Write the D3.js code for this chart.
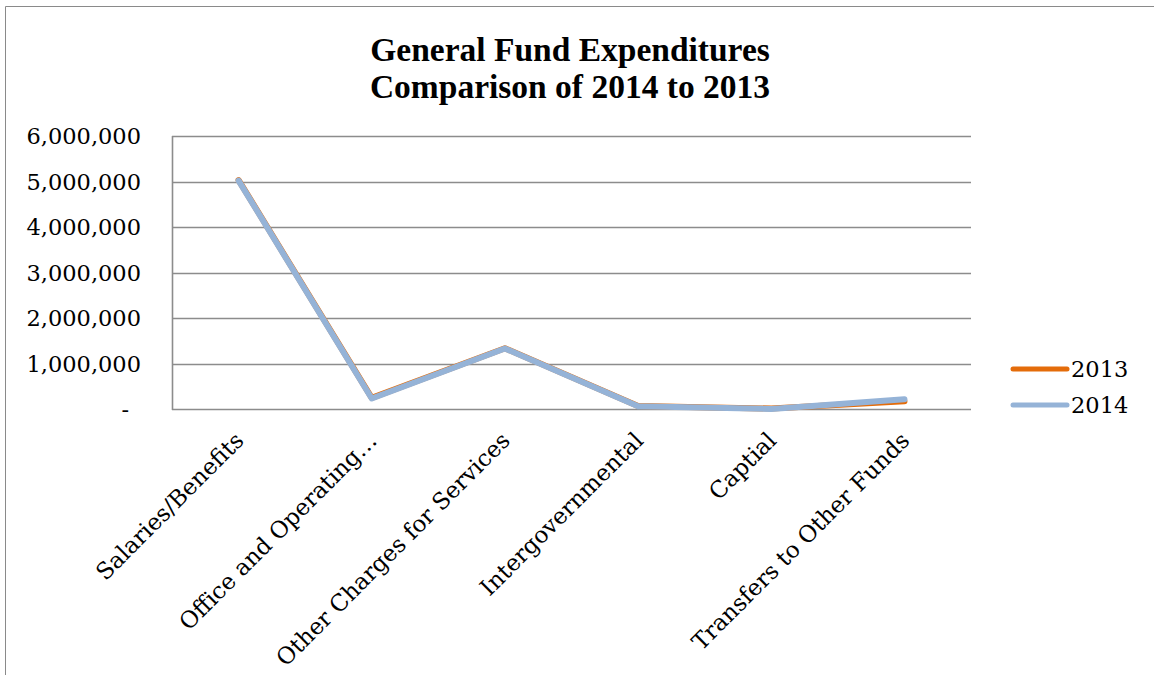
<!DOCTYPE html>
<html>
<head>
<meta charset="utf-8">
<script src="https://cdn.jsdelivr.net/npm/d3@7/dist/d3.min.js"></script>
<style>
  html, body { margin: 0; padding: 0; background: #ffffff; }
  svg { display: block; }
</style>
</head>
<body>
<svg id="chart" width="1154" height="675"></svg>
<script>
// Expenditure categories along the x axis
const categories = [
  "Salaries/Benefits",
  "Office and Operating\u2026",
  "Other Charges for Services",
  "Intergovernmental",
  "Captial",
  "Transfers to Other Funds"
];

// Yearly expenditure totals per category
const values2013 = [5030000, 245000, 1335000, 65000, 10000, 170000];
const values2014 = [5020000, 230000, 1330000, 60000, 0, 215000];

const seriesNames = ["2013", "2014"];
const seriesColors = ["#E46C0A", "#95B3D7"];

// Value axis ticks
const yTicks = [0, 1000000, 2000000, 3000000, 4000000, 5000000, 6000000];

const titleLines = ["General Fund Expenditures", "Comparison of 2014 to 2013"];

const svg = d3.select("#chart");
const serif = "'DejaVu Serif', serif";

// Chart frame (top and left edges visible)
svg.append("path")
  .attr("d", "M5.5,675 L5.5,6.5 L1154,6.5")
  .attr("fill", "none")
  .attr("stroke", "#8a8a8a")
  .attr("stroke-width", 1);

const plot = { left: 172, right: 971, top: 136, bottom: 409 };

const x = d3.scalePoint()
  .domain(categories)
  .range([plot.left, plot.right])
  .padding(0.5);

const y = d3.scaleLinear()
  .domain([0, 6000000])
  .range([plot.bottom, plot.top]);

// Title
const title = svg.append("text")
  .attr("x", 570)
  .attr("text-anchor", "middle")
  .attr("font-family", "'Liberation Serif', serif")
  .attr("font-weight", "bold")
  .attr("font-size", 33.5)
  .attr("fill", "#000");
title.selectAll("tspan")
  .data(titleLines)
  .join("tspan")
  .attr("x", 570)
  .attr("y", (d, i) => 61 + i * 37)
  .text(d => d);

// Horizontal gridlines
svg.append("g")
  .selectAll("line")
  .data(yTicks)
  .join("line")
  .attr("x1", plot.left)
  .attr("x2", plot.right)
  .attr("y1", d => Math.round(y(d)) + 0.5)
  .attr("y2", d => Math.round(y(d)) + 0.5)
  .attr("stroke", "#8c8c8c")
  .attr("stroke-width", 1.6);

// Vertical value axis line
svg.append("line")
  .attr("x1", plot.left + 0.5).attr("x2", plot.left + 0.5)
  .attr("y1", plot.top).attr("y2", plot.bottom + 1)
  .attr("stroke", "#8c8c8c")
  .attr("stroke-width", 1.6);

// Value axis labels
const fmt = d3.format(",");
const yAxis = d3.axisLeft(y)
  .tickValues(yTicks)
  .tickSize(0)
  .tickPadding(0)
  .tickFormat(d => d === 0 ? "-" : fmt(d));

const yAxisG = svg.append("g")
  .attr("transform", `translate(141,0)`)
  .call(yAxis);
yAxisG.select(".domain").remove();
yAxisG.selectAll("text")
  .attr("font-family", serif)
  .attr("font-size", 22.5)
  .attr("fill", "#000")
  .attr("dy", "0.35em")
  .attr("dx", d => d === 0 ? -12 : 0);

// Category labels, rotated
const xAxis = d3.axisBottom(x).tickSize(0).tickPadding(0);
const xAxisG = svg.append("g")
  .attr("transform", `translate(0,${plot.bottom})`)
  .call(xAxis);
xAxisG.select(".domain").remove();
xAxisG.selectAll(".tick text")
  .attr("font-family", serif)
  .attr("font-size", 23)
  .attr("fill", "#000")
  .attr("text-anchor", "end")
  .attr("y", 0)
  .attr("dy", 0)
  .attr("transform", "translate(6,33) rotate(-45)");

// Series lines: 2013 drawn first, 2014 on top
const line = d3.line()
  .x((d, i) => x(categories[i]))
  .y(d => y(d));

[values2013, values2014].forEach((vals, i) => {
  svg.append("path")
    .datum(vals)
    .attr("d", line)
    .attr("fill", "none")
    .attr("stroke", seriesColors[i])
    .attr("stroke-width", 6)
    .attr("stroke-linejoin", "round")
    .attr("stroke-linecap", "round");
});

// Legend
const legend = svg.append("g");
const legendY = d3.scalePoint().domain(seriesNames).range([369, 405]);
seriesNames.forEach((name, i) => {
  const ly = legendY(name);
  legend.append("line")
    .attr("x1", 1013).attr("x2", 1067)
    .attr("y1", ly).attr("y2", ly)
    .attr("stroke", seriesColors[i])
    .attr("stroke-width", 5)
    .attr("stroke-linecap", "round");
  legend.append("text")
    .attr("x", 1071)
    .attr("y", ly)
    .attr("dy", "0.35em")
    .attr("font-family", serif)
    .attr("font-size", 22.5)
    .attr("fill", "#000")
    .text(name);
});
</script>
</body>
</html>
